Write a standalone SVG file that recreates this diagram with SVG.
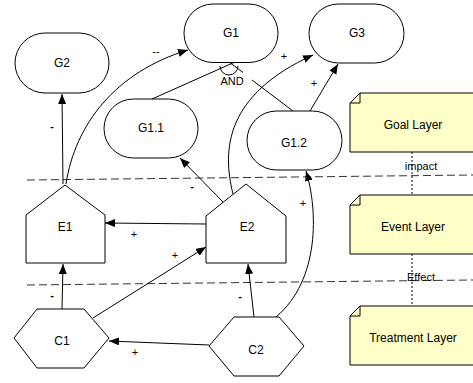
<svg xmlns="http://www.w3.org/2000/svg" width="473" height="383" viewBox="0 0 473 383">
<defs>
<marker id="arr" markerWidth="11" markerHeight="9" refX="10" refY="4" orient="auto" markerUnits="userSpaceOnUse">
<path d="M0,0 L10,4 L0,8 z" fill="#000"/>
</marker>
<style>
.node{fill:#fff;stroke:#000;stroke-width:1}
.note{fill:#ffffc8;stroke:#000;stroke-width:1}
.t{font-family:"Liberation Sans",Arial,sans-serif;font-size:12px;fill:#000;text-anchor:middle}
.lbl{font-family:"Liberation Sans",Arial,sans-serif;font-size:11px;fill:#000;text-anchor:middle}
.b{font-weight:bold}
.edge{fill:none;stroke:#000;stroke-width:1}
.arrow{marker-end:url(#arr)}
.sep{stroke:#333;stroke-width:1;stroke-dasharray:8,4;fill:none}
.dot{stroke:#000;stroke-width:1;stroke-dasharray:2,2;fill:none}
</style>
</defs>
<rect width="473" height="383" fill="#fff"/>
<g id="separators">
<line class="sep" x1="27" y1="180" x2="473" y2="175"/>
<line class="sep" x1="27" y1="285" x2="473" y2="280"/>
<line class="dot" x1="412" y1="152" x2="412" y2="195"/>
<line class="dot" x1="412" y1="254" x2="412" y2="306"/>
<text class="lbl" x="421" y="170">impact</text>
<text class="lbl" x="421" y="281">Effect</text>
</g>
<g id="connectors">
<path class="edge arrow" d="M63,184 L62,94"/>
<path class="edge arrow" d="M66,184 C75,125 115,72 188,50"/>
<path class="edge arrow" d="M223,202 L180,158"/>
<path class="edge arrow" d="M206,224 L105,223"/>
<path class="edge arrow" d="M93,318 L206,247"/>
<path class="edge arrow" d="M62,309 L63,264"/>
<path class="edge arrow" d="M209,345 L109,341"/>
<path class="edge arrow" d="M254,317 L248,264"/>
<path class="edge arrow" d="M276,317 C320,280 318,210 306,171"/>
<path class="edge arrow" d="M233,194 C222,150 225,95 313,55"/>
<path class="edge arrow" d="M310,111 L338,64"/>
<path class="edge" d="M152,99 L235,62"/>
<path class="edge" d="M293,111 L252,80"/>
<path class="edge" d="M243,72.5 L229,62"/>
<path class="edge" d="M220,66 A9,9 0 0 0 238,66"/>
<text class="lbl" x="232" y="85">AND</text>
<text class="lbl b" x="52" y="130">-</text>
<text class="lbl b" x="192" y="190">-</text>
<text class="lbl b" x="52" y="299">-</text>
<text class="lbl b" x="240" y="300">-</text>
<text class="lbl" x="156" y="55">--</text>
<text class="lbl" x="134" y="238">+</text>
<text class="lbl" x="175" y="259">+</text>
<text class="lbl" x="135" y="356">+</text>
<text class="lbl" x="303" y="207">+</text>
<text class="lbl" x="284" y="60">+</text>
<text class="lbl" x="314" y="87">+</text>
</g>
<g id="G1"><rect class="node" x="184" y="4" width="94" height="58.5" rx="29" ry="29"/><text class="t" x="231" y="37">G1</text></g>
<g id="G2"><rect class="node" x="15" y="33" width="94" height="60" rx="30" ry="30"/><text class="t" x="62" y="67">G2</text></g>
<g id="G3"><rect class="node" x="309" y="4" width="95" height="59" rx="29.5" ry="29.5"/><text class="t" x="357" y="37">G3</text></g>
<g id="G1.1"><rect class="node" x="104" y="99" width="94" height="59" rx="29.5" ry="29.5"/><text class="t" x="151" y="132">G1.1</text></g>
<g id="G1.2"><rect class="node" x="247" y="111" width="95" height="59" rx="29.5" ry="29.5"/><text class="t" x="294" y="147">G1.2</text></g>
<g id="E1"><polygon class="node" points="65,185 105,215 105,263 26,263 26,215"/><text class="t" x="65" y="231">E1</text></g>
<g id="E2"><polygon class="node" points="246,184 286,216 286,263 206,263 206,216"/><text class="t" x="247" y="231">E2</text></g>
<g id="C1"><polygon class="node" points="14,338 37,309 84,309 109,338 84,368 37,368"/><text class="t" x="62" y="345">C1</text></g>
<g id="C2"><polygon class="node" points="209,346 234,317 279,317 304,346 279,376 234,376"/><text class="t" x="256" y="354">C2</text></g>
<g id="GoalLayer"><polygon class="note" points="360,93 476,93 476,152 350,152 350,103"/><polyline class="edge" points="350,103 360,103 360,93"/><text class="t" x="413" y="129">Goal Layer</text></g>
<g id="EventLayer"><polygon class="note" points="360,195 476,195 476,254 350,254 350,205"/><polyline class="edge" points="350,205 360,205 360,195"/><text class="t" x="413" y="231">Event Layer</text></g>
<g id="TreatmentLayer"><polygon class="note" points="360,306 476,306 476,365 350,365 350,316"/><polyline class="edge" points="350,316 360,316 360,306"/><text class="t" x="413" y="342">Treatment Layer</text></g>
</svg>
